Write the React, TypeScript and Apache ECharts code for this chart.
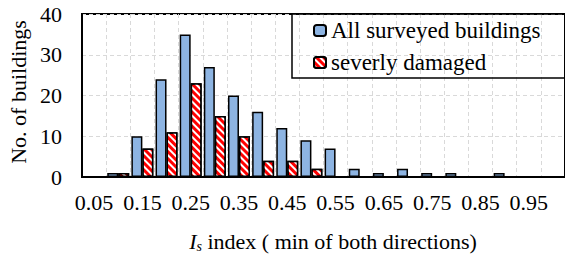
import React, { useEffect, useRef } from "react";
import * as echarts from "echarts";

const categories = ["0.05","0.10","0.15","0.20","0.25","0.30","0.35","0.40","0.45","0.50","0.55","0.60","0.65","0.70","0.75","0.80","0.85","0.90","0.95","1.00"];
const allBuildings = [0, 1, 10, 24, 35, 27, 20, 16, 12, 9, 7, 2, 1, 2, 1, 1, 0, 1, 0, 0];
const severelyDamaged = [0, 1, 7, 11, 23, 15, 10, 4, 4, 2, 0, 0, 0, 0, 0, 0, 0, 0, 0, 0];
const yTicks = [0, 10, 20, 30, 40];

const FONT = "Liberation Serif";

export default function App() {
  const ref = useRef<HTMLDivElement>(null);
  useEffect(() => {
    document.body.style.margin = "0";
    const chart = echarts.init(ref.current!, null, { renderer: "svg" });
    chart.setOption({
      animation: false,
      textStyle: { fontFamily: FONT, color: "#000" },
      grid: {
        left: 82, top: 14, width: 486, height: 163,
        show: true, borderColor: "#000", borderWidth: 2, backgroundColor: "transparent",
      },
      legend: {
        orient: "vertical",
        left: 313,
        top: 19,
        itemWidth: 12,
        itemHeight: 11,
        itemGap: 9,
        padding: 0,
        textStyle: { fontFamily: FONT, fontSize: 23, color: "#000" },
        data: ["All surveyed buildings", "severly damaged"],
      },
      xAxis: {
        type: "category",
        data: categories,
        axisLine: { show: true, lineStyle: { color: "#000", width: 2 } },
        axisTick: { show: false },
        axisLabel: { interval: 1, fontFamily: FONT, fontSize: 22, color: "#000", margin: 14 },
        splitLine: { show: true, interval: 0, lineStyle: { color: "#d9d9d9", type: [4, 3], width: 1 } },
      },
      yAxis: {
        type: "value",
        min: yTicks[0],
        max: yTicks[yTicks.length - 1],
        interval: 10,
        axisLine: { show: true, lineStyle: { color: "#000", width: 2 } },
        axisTick: { show: false },
        axisLabel: { fontFamily: FONT, fontSize: 22, color: "#000", margin: 20 },
        splitLine: { show: true, lineStyle: { color: "#d9d9d9", type: [4, 3], width: 1 } },
      },
      series: [
        {
          name: "All surveyed buildings",
          type: "bar",
          data: allBuildings,
          barGap: "0%",
          barCategoryGap: "9%",
          itemStyle: { color: "#8db4e2", borderColor: "#000", borderWidth: 1.5 },
        },
        {
          name: "severly damaged",
          type: "bar",
          data: severelyDamaged,
          barGap: "0%",
          barCategoryGap: "9%",
          itemStyle: {
            color: "#ff0000",
            borderColor: "#000",
            borderWidth: 1.5,
            decal: {
              symbol: "rect",
              symbolSize: 1,
              dashArrayX: [1, 0],
              dashArrayY: [2, 3],
              rotation: Math.PI / 4,
              color: "#ffffff",
            },
          },
        },
      ],
      graphic: [
        {
          type: "rect",
          shape: { x: 292, y: 14, width: 300, height: 64 },
          style: { fill: "none", stroke: "#000", lineWidth: 1.5 },
          z: 5,
        },
        {
          type: "text",
          x: 18,
          y: 92,
          rotation: Math.PI / 2,
          style: {
            text: "No. of buildings",
            fontFamily: FONT,
            fontSize: 22,
            fill: "#000",
            textAlign: "center",
            textVerticalAlign: "middle",
          },
        },
        {
          type: "text",
          x: 333,
          y: 241,
          style: {
            text: "{i|I}{s|s} index ( min of both directions)",
            fontFamily: FONT,
            fontSize: 22,
            fill: "#000",
            textAlign: "center",
            textVerticalAlign: "middle",
            rich: {
              i: { fontFamily: FONT, fontSize: 22, fontStyle: "italic", fill: "#000" },
              s: { fontFamily: FONT, fontSize: 14, fontStyle: "italic", fill: "#000", verticalAlign: "bottom", padding: [10, 0, 0, 0] },
            },
          },
        },
      ],
    });
    return () => chart.dispose();
  }, []);
  return <div ref={ref} style={{ width: 565, height: 258 }} />;
}
